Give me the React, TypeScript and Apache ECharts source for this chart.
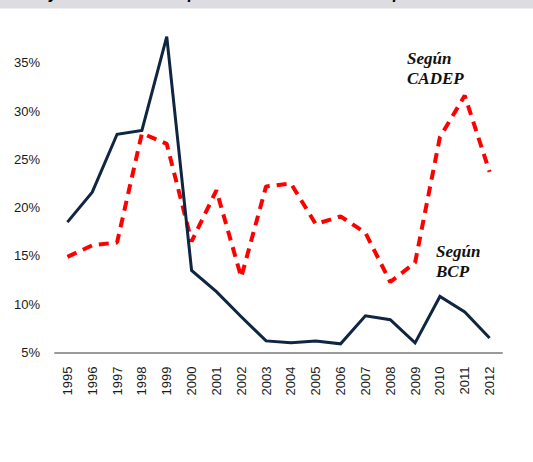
import React, { useEffect, useRef } from "react";
import * as echarts from "echarts";

const years = ["1995","1996","1997","1998","1999","2000","2001","2002","2003","2004","2005","2006","2007","2008","2009","2010","2011","2012"];
const bcp = [18.5, 21.6, 27.6, 28.0, 37.7, 13.5, 11.3, 8.7, 6.2, 6.0, 6.2, 5.9, 8.8, 8.4, 6.0, 10.8, 9.2, 6.5];
const cadep = [14.9, 16.1, 16.4, 27.7, 26.6, 16.5, 21.8, 12.8, 22.2, 22.5, 18.3, 19.1, 17.4, 12.3, 14.3, 27.3, 31.6, 23.7];

export default function App() {
  const ref = useRef<HTMLDivElement>(null);
  useEffect(() => {
    if (!ref.current) return;
    const chart = echarts.init(ref.current, null, { renderer: "svg" });
    chart.setOption({
      animation: false,
      backgroundColor: "#ffffff",
      grid: { left: 55, right: 31, top: 14.5, bottom: 109.5, containLabel: false },
      xAxis: {
        type: "category",
        data: years,
        boundaryGap: true,
        axisLine: { show: true, lineStyle: { color: "#9a9a9a", width: 2 } },
        axisTick: { show: false },
        axisLabel: { rotate: 90, margin: 14, fontSize: 13, color: "#1a1a1a", fontFamily: "Liberation Sans, Arial, sans-serif" },
        splitLine: { show: false },
      },
      yAxis: {
        type: "value",
        min: 5,
        max: 40,
        interval: 5,
        axisLine: { show: false },
        axisTick: { show: false },
        splitLine: { show: false },
        axisLabel: {
          margin: 15,
          fontSize: 13,
          color: "#1a1a1a",
          fontFamily: "Liberation Sans, Arial, sans-serif",
          formatter: (v: number) => (v >= 40 ? "" : v + "%"),
        },
      },
      series: [
        {
          name: "Según BCP",
          type: "line",
          data: bcp,
          symbol: "none",
          lineStyle: { color: "#0f2542", width: 3, join: "miter" },
          z: 3,
        },
        {
          name: "Según CADEP",
          type: "line",
          data: cadep,
          symbol: "none",
          lineStyle: { color: "#ff0000", width: 4, type: [10, 7], cap: "butt" },
          z: 2,
        },
      ],
      graphic: [
        { type: "rect", left: 0, top: 0, shape: { x: 0, y: 0, width: 533, height: 8.5 }, style: { fill: "#dddde1" }, z: 10 },
        { type: "text", x: 49, y: -14.5, style: { text: "y", font: "italic bold 16px 'Liberation Sans', Arial", fill: "#000" }, z: 11 },
        { type: "text", x: 188, y: -14.5, style: { text: "p", font: "italic bold 16px 'Liberation Sans', Arial", fill: "#000" }, z: 11 },
        { type: "text", x: 393, y: -14.5, style: { text: "p", font: "italic bold 16px 'Liberation Sans', Arial", fill: "#000" }, z: 11 },
        {
          type: "text",
          x: 407,
          y: 48,
          style: { text: "Según\nCADEP", font: "italic bold 17px 'Liberation Serif', 'Times New Roman', serif", fill: "#111", lineHeight: 20 },
          z: 11,
        },
        {
          type: "text",
          x: 436,
          y: 241,
          style: { text: "Según\nBCP", font: "italic bold 17px 'Liberation Serif', 'Times New Roman', serif", fill: "#111", lineHeight: 20 },
          z: 11,
        },
      ],
    });
    return () => chart.dispose();
  }, []);
  return <div ref={ref} style={{ position: "fixed", left: 0, top: 0, width: 533, height: 462 }} />;
}
